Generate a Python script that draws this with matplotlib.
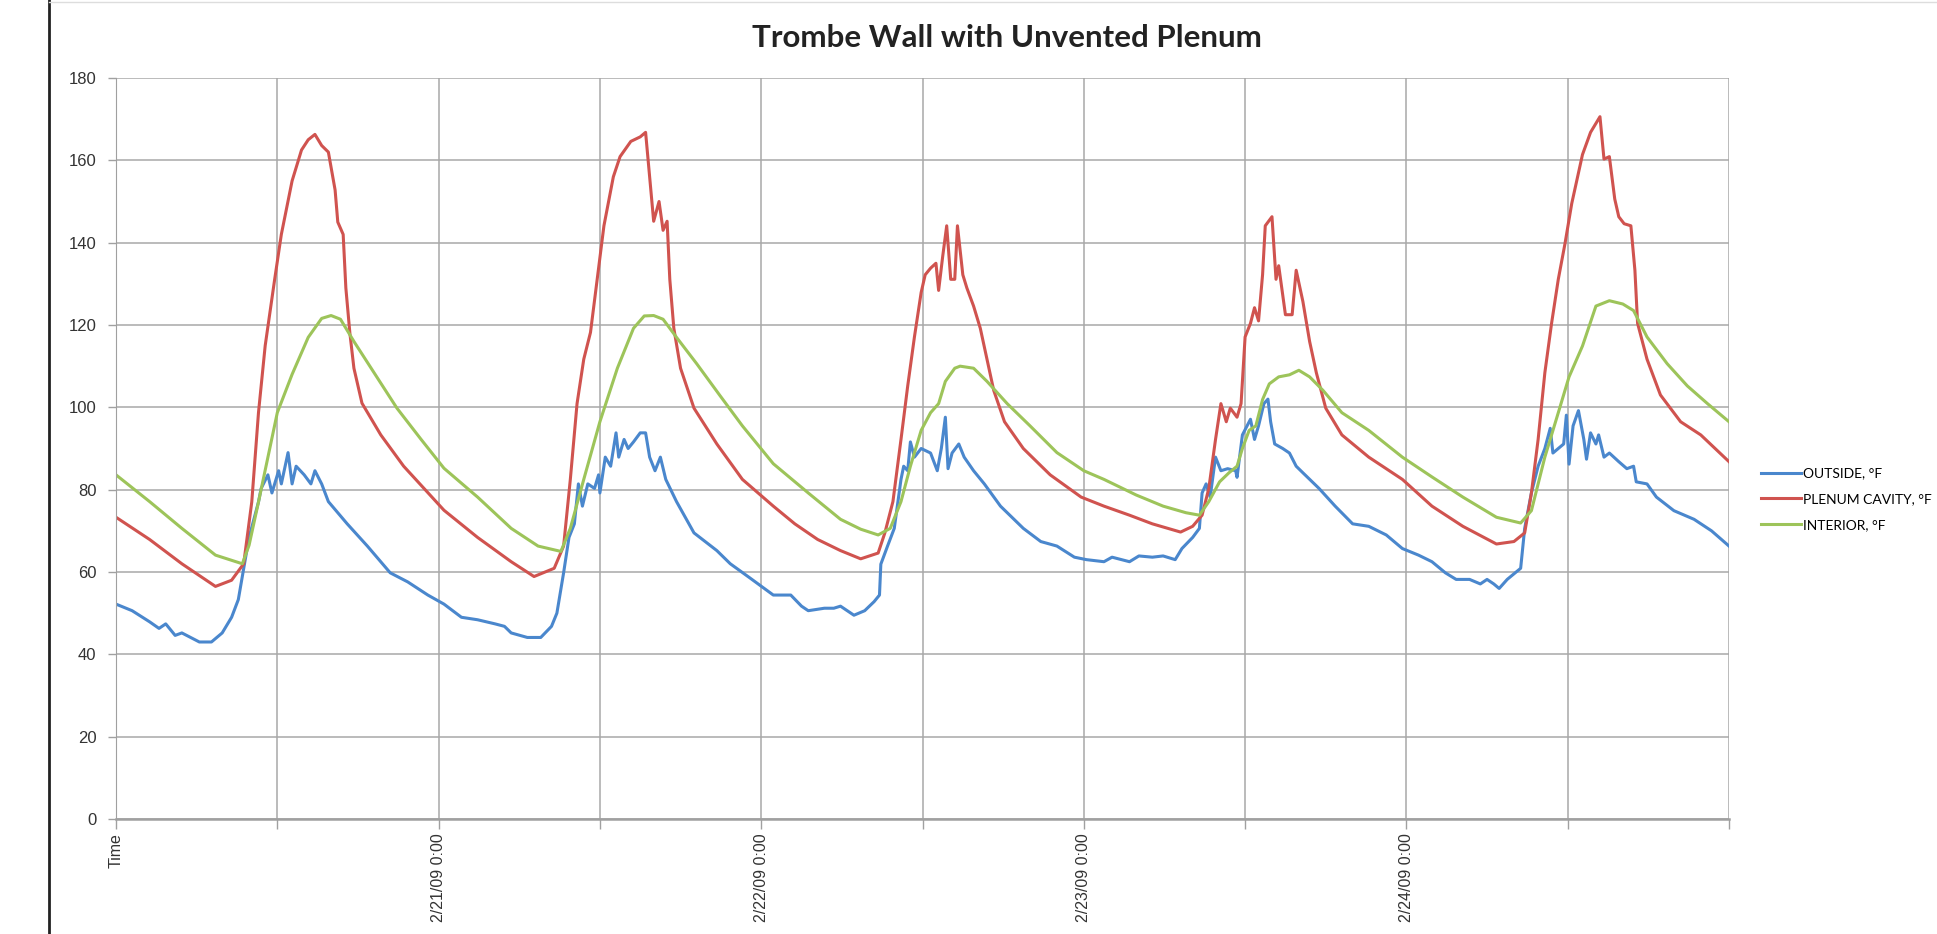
import matplotlib
matplotlib.use("Agg")
import matplotlib.pyplot as plt
from matplotlib.lines import Line2D

# hours since 2/20/09 0:00
outside_t = [0, 1.2, 2.5, 3.2, 3.7, 4.4, 4.9, 6.2, 7.1, 7.9, 8.6, 9.1, 9.5, 9.9, 10.6, 10.8, 11.3, 11.6,
             12.1, 12.3, 12.8, 13.1, 13.4, 14.0, 14.5, 14.8, 15.3, 15.8, 17.2, 18.7, 20.4, 21.7, 23.2, 24.4,
             25.7, 26.9, 28.2, 28.9, 29.4, 30.6, 31.6, 32.4, 32.8, 33.3, 33.7, 34.1, 34.4, 34.7, 35.1, 35.6,
             35.9, 36.0, 36.4, 36.8, 37.2, 37.4, 37.8, 38.1, 38.5, 39.0, 39.4, 39.7, 40.1, 40.5, 40.9, 41.7,
             43.0, 44.7, 45.7, 47.1, 48.9,
             50.2, 51.0, 51.5, 52.7, 53.4, 53.9, 54.9, 55.7, 56.4, 56.8, 56.9, 57.4, 57.9, 58.4, 58.6, 58.9,
             59.1, 59.4, 59.9, 60.6, 61.1, 61.4, 61.7, 61.9, 62.2, 62.7, 63.1, 63.8, 64.6, 65.8, 67.5, 68.8,
             70.0, 71.3, 72.2, 73.5,
             74.1, 75.4, 76.1, 77.1, 77.9, 78.8, 79.3, 80.1, 80.6, 80.8, 81.1, 81.4, 81.8, 82.2, 82.7, 83.3,
             83.4, 83.8, 84.4, 84.7, 85.0, 85.4, 85.7, 85.9, 86.2, 86.8, 87.3, 87.8, 88.3, 89.5, 90.7, 92.0,
             93.2, 94.5, 95.7, 96.9, 97.9,
             98.9, 99.7, 100.7, 101.5, 102.0, 102.5, 102.9, 103.5, 104.5, 104.8, 105.3, 105.8, 106.3, 106.7,
             106.9, 107.3, 107.7, 107.9, 108.1, 108.4, 108.8, 109.2, 109.4, 109.7, 110.1, 110.3, 110.7, 111.1,
             111.8, 112.4, 112.9, 113.1, 113.9, 114.6, 115.9, 117.4, 118.7, 120.0]
outside_v = [52.2, 50.6, 47.9, 46.3, 47.4, 44.6, 45.2, 43.0, 43.0, 45.2, 49.0, 53.3, 60.9, 68.4, 77.0, 80.3, 83.6, 79.2,
             84.6, 81.4, 89.0, 81.4, 85.7, 83.6, 81.4, 84.6, 81.4, 77.1, 71.7, 66.3, 59.8, 57.6, 54.4, 52.2,
             49.0, 48.4, 47.4, 46.8, 45.2, 44.1, 44.1, 46.8, 50.0, 59.8, 68.4, 71.7, 81.4, 76.0, 81.4, 80.3,
             83.6, 79.2, 87.9, 85.7, 93.8, 87.9, 92.2, 90.0, 91.6, 93.8, 93.8, 87.9, 84.6, 87.9, 82.5, 77.1,
             69.5, 65.2, 62.0, 58.7, 54.4,
             54.4, 51.7, 50.6, 51.2, 51.2, 51.7, 49.5, 50.6, 52.8, 54.4, 61.9, 66.3, 70.6, 82.5, 85.7, 84.6,
             91.6, 87.9, 90.0, 88.9, 84.6, 90.0, 97.6, 85.1, 88.9, 91.1, 87.9, 84.6, 81.4, 76.0, 70.6, 67.4,
             66.3, 63.6, 63.0, 62.5,
             63.6, 62.5, 63.9, 63.6, 63.9, 63.0, 65.7, 68.4, 70.6, 79.2, 81.4, 78.2, 87.9, 84.6, 85.1, 84.6,
             83.0, 93.3, 97.1, 92.2, 95.5, 100.9, 102.0, 96.5, 91.1, 90.0, 88.9, 85.7, 84.1, 80.3, 76.0, 71.7,
             71.1, 69.0, 65.7, 64.1, 62.5,
             59.8, 58.2, 58.2, 57.1, 58.2, 57.1, 56.0, 58.2, 60.9, 70.6, 79.2, 85.7, 90.0, 94.9,
             88.9, 90.0, 91.1, 98.1, 86.2, 95.5, 99.2, 92.2, 87.4, 93.8, 91.1, 93.3, 87.9, 88.9,
             86.8, 85.1, 85.7, 81.9, 81.4, 78.2, 74.9, 72.8, 70.0, 66.3]

plenum_t = [0, 2.5, 4.9, 7.4, 8.6, 9.5, 10.1, 10.6, 11.1, 11.8, 12.3, 13.1, 13.8, 14.3, 14.8, 15.3, 15.8,
            16.3, 16.5, 16.9, 17.1, 17.4, 17.7, 18.3, 19.7, 21.4, 24.4,
            26.9, 29.4, 31.1, 32.6, 33.3, 33.8, 34.3, 34.8, 35.3, 35.8, 36.3, 37.0, 37.5, 38.3, 39.0, 39.4,
            39.7, 40.0, 40.4, 40.7, 41.0, 41.2, 41.5, 42.0, 43.0, 44.7, 46.6, 48.9,
            50.5, 52.2, 53.9, 55.4, 56.7, 57.2, 57.8, 58.4, 58.9, 59.4, 59.9, 60.2, 60.6, 61.0, 61.2, 61.5,
            61.8, 62.1, 62.4, 62.6, 63.0, 63.3, 63.8, 64.3, 64.8, 65.3, 66.1, 67.5, 69.5, 71.8, 73.5,
            75.4, 77.1, 79.2, 80.1, 80.8, 81.3, 81.8, 82.2, 82.6, 82.9, 83.4, 83.7, 84.0, 84.4, 84.7, 85.0,
            85.3, 85.5, 86.0, 86.3, 86.5, 87.0, 87.5, 87.8, 88.3, 88.8, 89.3, 90.0, 91.2, 93.2, 95.7, 97.9,
            100.2, 102.7, 104.0, 104.8, 105.3, 105.8, 106.3, 106.8, 107.3, 107.8, 108.3, 109.1, 109.7, 110.1,
            110.4, 110.7, 111.1, 111.5, 111.8, 112.2, 112.7, 113.0, 113.2, 113.9, 114.9, 116.4, 117.9, 120.0]
plenum_v = [73.3, 67.9, 62.0, 56.5, 58.0, 62.0, 77.0, 98.7, 115.0, 131.0, 142.0, 155.0, 162.5, 165.0, 166.3, 163.6, 162.0,
            152.8, 145.0, 142.0, 129.0, 118.0, 109.5, 101.0, 93.3, 85.7, 75.0,
            68.4, 62.5, 58.9, 60.9, 66.3, 82.5, 100.9, 111.7, 118.2, 131.1, 144.1, 156.0, 160.9, 164.6, 165.7, 166.8,
            156.0, 145.2, 150.0, 143.0, 145.2, 131.1, 119.2, 109.5, 99.8, 91.1, 82.5, 76.0,
            71.7, 67.9, 65.2, 63.2, 64.6, 69.5, 77.1, 92.2, 105.2, 117.1, 127.9, 132.2, 133.8, 135.0, 128.4, 136.6,
            144.1, 131.1, 131.1, 144.1, 132.2, 129.0, 124.6, 119.2, 111.7, 104.1, 96.5, 90.0, 83.6, 78.2, 76.0,
            73.8, 71.7, 69.7, 71.1, 73.8, 80.3, 92.2, 100.9, 96.5, 99.8, 97.6, 100.9, 117.1, 120.4, 124.2, 121.0,
            132.2, 144.1, 146.3, 131.1, 134.4, 122.5, 122.5, 133.3, 125.7, 116.0, 108.4, 99.8, 93.3, 87.9, 82.5, 76.0,
            71.1, 66.8, 67.4, 69.5, 79.2, 92.2, 108.4, 120.4, 131.1, 139.8, 149.5, 161.4, 166.8, 169.0,
            170.6, 160.3, 160.9, 150.6, 146.3, 144.6, 144.1, 133.3, 120.4, 111.7, 103.0, 96.5, 93.3, 86.8]

interior_t = [0, 2.5, 4.9, 7.4, 9.4, 9.9, 10.6, 12.0, 13.1, 14.3, 15.3, 16.0, 16.7, 17.7, 19.2, 20.9, 22.7, 24.4,
              26.9, 29.4, 31.4, 33.1, 33.8, 34.8, 36.0, 37.3, 38.5, 39.3, 40.0, 40.7, 41.7, 43.2, 44.9, 46.6, 48.9,
              51.5, 53.9, 55.4, 56.7, 57.6, 58.4, 59.1, 59.9, 60.6, 61.2, 61.7, 62.4, 62.8, 63.8, 64.8, 66.3, 68.0,
              70.0, 72.0, 73.5,
              75.9, 77.9, 79.6, 80.6, 81.3, 82.1, 82.8, 83.4, 83.8, 84.3, 84.8, 85.3, 85.8, 86.5, 87.3, 88.0, 88.8,
              89.8, 91.2, 93.2, 95.7, 97.9,
              100.2, 102.7, 104.5, 105.3, 106.3, 107.3, 108.1, 109.1, 110.1, 111.1, 112.1, 112.9, 113.9, 115.4,
              116.9, 118.4, 120.0]
interior_v = [83.6, 77.1, 70.6, 64.1, 62.0, 66.5, 77.0, 98.7, 108.0, 117.0, 121.6, 122.3, 121.4, 116.0, 108.4, 99.8, 92.2, 85.2,
              78.2, 70.6, 66.3, 65.0, 70.6, 82.5, 96.5, 109.5, 119.2, 122.2, 122.3, 121.4, 117.0, 110.6, 103.0, 95.5, 86.3,
              79.2, 72.8, 70.4, 69.0, 70.6, 77.1, 85.7, 94.4, 98.7, 100.9, 106.3, 109.5, 110.0, 109.5, 106.3, 100.9, 95.5,
              89.0, 84.6, 82.5,
              78.7, 76.0, 74.4, 73.8, 77.1, 81.9, 84.1, 85.7, 90.0, 94.4, 95.5, 101.9, 105.7, 107.4, 107.9, 109.0, 107.4,
              104.1, 98.7, 94.4, 87.9, 83.1,
              78.2, 73.3, 71.9, 74.9, 87.9, 98.7, 107.4, 114.9, 124.6, 125.9, 125.1, 123.5, 117.1, 110.6,
              105.2, 100.9, 96.5]

series_names = ["OUTSIDE, °F", "PLENUM CAVITY, °F", "INTERIOR, °F"]
series_colors = ["#4A87CD", "#D0534F", "#9DC45A"]

tick_hours = [0, 12, 24, 36, 48, 60, 72, 84, 96, 108, 120]
tick_labels = ["Time", "", "2/21/09 0:00", "", "2/22/09 0:00", "", "2/23/09 0:00", "", "2/24/09 0:00", "", ""]
y_ticks = [0, 20, 40, 60, 80, 100, 120, 140, 160, 180]

fig = plt.figure(figsize=(19.37, 9.34), dpi=100)
ax = fig.add_axes([116 / 1937, 1 - 819 / 934, (1729 - 116) / 1937, (819 - 78) / 934])

lines = []
for t, v, name, c in zip([outside_t, plenum_t, interior_t], [outside_v, plenum_v, interior_v],
                         series_names, series_colors):
    ln, = ax.plot(t, v, color=c, lw=2.2, label=name, solid_joinstyle="round")
    lines.append(ln)

ax.set_xlim(0, 120)
ax.set_ylim(0, 180)
ax.set_yticks(y_ticks)
ax.set_xticks(tick_hours)
ax.set_xticklabels(tick_labels, rotation=90, va="top", ha="center",
                   fontsize=11.5, family="Liberation Sans", color="#333333")
ax.tick_params(axis="y", labelsize=12, colors="#333333", length=6, width=1, pad=8)
ax.tick_params(axis="x", length=7, width=1, pad=3)
for lab in ax.get_yticklabels():
    lab.set_family("Liberation Sans")
ax.tick_params(axis="both", color="#a0a0a0")

ax.grid(True, color="#a8a8a8", lw=1.1)
ax.set_axisbelow(True)
for s in ["top", "right"]:
    ax.spines[s].set_visible(False)
ax.spines["left"].set_color("#a0a0a0")
ax.spines["bottom"].set_color("#a0a0a0")
ax.spines["bottom"].set_linewidth(1.8)

fig.text(1007 / 1937, 1 - 38 / 934, "Trombe Wall with Unvented Plenum", ha="center", va="center",
         fontsize=22.5, fontweight="bold", family="Lato", color="#222222")

fig.legend(handles=lines, labels=series_names, loc="upper left", bbox_to_anchor=(1748 / 1937, 1 - 455 / 934),
           frameon=False, handlelength=2.9, handletextpad=0.15, labelspacing=0.98,
           prop={"family": "Lato", "size": 10})

# border of the chart area in the screenshot
fig.add_artist(Line2D([49 / 1937, 49 / 1937], [0, 1], color="#222222", lw=2))
fig.add_artist(Line2D([49 / 1937, 1], [0.998, 0.998], color="#dddddd", lw=1))

fig.savefig("out.png", dpi=100)
